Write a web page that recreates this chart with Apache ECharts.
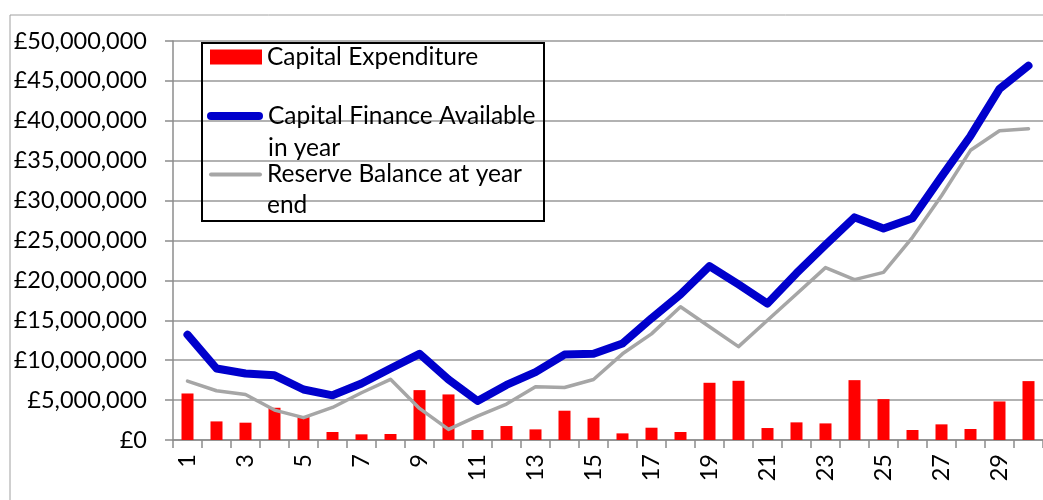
<!DOCTYPE html>
<html>
<head>
<meta charset="utf-8">
<script src="https://cdn.jsdelivr.net/npm/echarts@6/dist/echarts.min.js"></script>
<style>
  html, body { margin: 0; padding: 0; background: #fff; }
  #chart_div { width: 1043px; height: 500px; }
</style>
</head>
<body>
<div id="chart_div"></div>
<script>
// years 1..30
var years = [];
for (var y = 1; y <= 30; y++) years.push(String(y));

var capitalExpenditure = [
    5830000, 2330000, 2170000, 4040000, 2900000, 1000000, 710000, 750000, 6250000, 5710000,
    1250000, 1750000, 1330000, 3670000, 2790000, 830000, 1540000, 1000000, 7170000, 7420000,
    1500000, 2210000, 2080000, 7500000, 5120000, 1250000, 1960000, 1380000, 4830000, 7380000
];
var capitalFinance = [
    13200000, 8960000, 8330000, 8100000, 6330000, 5600000, 7080000, 8960000, 10800000, 7580000,
    4900000, 6900000, 8500000, 10700000, 10800000, 12100000, 15250000, 18250000, 21800000, 19500000,
    17100000, 20900000, 24450000, 27900000, 26500000, 27800000, 33000000, 38100000, 44000000, 46900000
];
var reserveBalance = [
    7380000, 6170000, 5700000, 3750000, 2800000, 4080000, 5920000, 7600000, 3960000, 1330000,
    3000000, 4500000, 6670000, 6580000, 7580000, 10800000, 13300000, 16700000, 14200000, 11700000,
    15000000, 18300000, 21600000, 20100000, 21000000, 25400000, 30600000, 36300000, 38750000, 39000000
];

var font = 'Lato';
var txt = { fontFamily: font, fontSize: 23.5, color: '#000' };
var legendTxt = { fontFamily: font, fontSize: 24.5, color: '#000' };
// capsule shaped legend icons for the line series (same aspect as itemWidth x itemHeight)
var blueIcon = 'path://M4,0 H52 A4,4 0 0 1 52,8 H4 A4,4 0 0 1 4,0 Z';
var greyIcon = 'path://M2,0 H51 A2,2 0 0 1 51,4 H2 A2,2 0 0 1 2,0 Z';

function pounds(v) {
    return '£' + v.toString().replace(/\B(?=(\d{3})+(?!\d))/g, ',');
}

var myChart = echarts.init(document.getElementById('chart_div'));
myChart.setOption({
    animation: false,
    graphic: [
        { type: 'rect', z: 0, shape: { x: 10, y: 15, width: 1200, height: 700 },
          style: { fill: 'none', stroke: '#a0a0a0', lineWidth: 1 } },
        { type: 'rect', z: 3, shape: { x: 202, y: 43, width: 342, height: 178 },
          style: { fill: 'none', stroke: '#000', lineWidth: 2 } }
    ],
    legend: [
        { data: ['Capital Expenditure'], orient: 'vertical', left: 210, top: 41, padding: 0,
          itemWidth: 52, itemHeight: 15, icon: 'rect',
          textStyle: Object.assign({ lineHeight: 32 }, legendTxt) },
        { data: ['Capital Finance Available in year'], orient: 'vertical', left: 207, top: 68, padding: 0,
          itemWidth: 56, itemHeight: 8, icon: blueIcon,
          formatter: function () { return ' \nCapital Finance Available\nin year'; },
          textStyle: Object.assign({ lineHeight: 32 }, legendTxt) },
        { data: ['Reserve Balance at year end'], orient: 'vertical', left: 209, top: 128, padding: 0,
          itemWidth: 53, itemHeight: 4, icon: greyIcon,
          formatter: function () { return ' \nReserve Balance at year\nend'; },
          textStyle: Object.assign({ lineHeight: 31 }, legendTxt) }
    ],
    grid: { left: 173, top: 41, width: 882, height: 399 },
    xAxis: {
        type: 'category',
        data: years,
        axisLine: { lineStyle: { color: '#8c8c8c', width: 1.5 } },
        axisTick: { show: true, length: 8, interval: 0, lineStyle: { color: '#8c8c8c', width: 1.5 } },
        axisLabel: Object.assign({ rotate: 90, interval: 1, margin: 14 }, txt),
        splitLine: { show: false }
    },
    yAxis: {
        type: 'value',
        min: 0, max: 50000000, interval: 5000000,
        axisLine: { show: true, lineStyle: { color: '#8c8c8c', width: 1.5 } },
        axisTick: { show: true, length: 8, lineStyle: { color: '#8c8c8c', width: 1.5 } },
        axisLabel: Object.assign({ margin: 26, formatter: pounds }, txt),
        splitLine: { lineStyle: { color: '#999', width: 1.5 } }
    },
    series: [
        { name: 'Capital Expenditure', type: 'bar', data: capitalExpenditure, barWidth: 12,
          itemStyle: { color: '#ff0000' }, z: 2 },
        { name: 'Capital Finance Available in year', type: 'line', data: capitalFinance,
          symbol: 'none', z: 5,
          lineStyle: { color: '#0000cc', width: 8, cap: 'round', join: 'round' },
          itemStyle: { color: '#0000cc' } },
        { name: 'Reserve Balance at year end', type: 'line', data: reserveBalance,
          symbol: 'none', z: 4,
          lineStyle: { color: '#a6a6a6', width: 3.5, cap: 'round', join: 'round' },
          itemStyle: { color: '#a6a6a6' } }
    ]
});
</script>
</body>
</html>
